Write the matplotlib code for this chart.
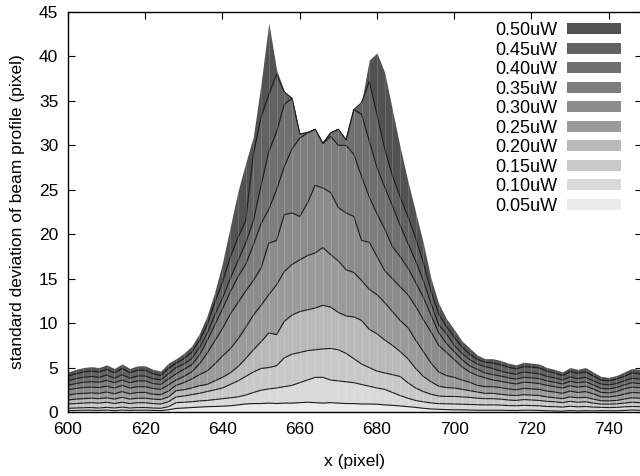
import numpy as np
import matplotlib.pyplot as plt
from matplotlib.patches import Patch

plt.rcParams['font.family'] = ['Liberation Sans', 'DejaVu Sans']

# sample positions along the row (pixel)
x_pixel = np.arange(600, 749, 2)

# standard deviation of the beam profile for each laser power
sd_050uw = [4.5, 4.8, 5.0, 5.1, 5.0, 5.3, 4.9, 5.4, 4.9, 5.2, 5.2, 4.8, 4.6, 5.5, 6.0,
            6.6, 7.4, 8.8, 10.8, 13.5, 16.8, 20.8, 24.8, 28.0, 31.0, 37.0, 43.8, 38.5, 36.1, 35.3,
            31.3, 31.4, 31.8, 30.2, 31.4, 31.8, 30.6, 34.0, 34.8, 39.6, 40.4, 38.2, 34.0, 29.8, 26.0,
            22.5, 19.0, 15.0, 12.2, 10.5,
            9.3, 8.0, 7.2, 6.4, 6.0, 6.0, 5.8, 5.5, 5.3, 5.6, 5.5, 5.4, 5.0, 4.8, 4.5,
            5.0, 4.8, 5.0, 4.5, 4.0, 3.9, 4.1, 4.5, 4.9, 4.8]
sd_045uw = [4.05, 4.3, 4.5, 4.6, 4.5, 4.8, 4.4, 4.9, 4.4, 4.7, 4.7, 4.3, 4.1, 4.9, 5.5,
            6.0, 6.7, 8.0, 9.8, 12.3, 14.6, 17.4, 19.6, 21.5, 29.0, 33.2, 35.7, 38.0, 36.0, 35.3,
            31.3, 31.4, 31.8, 30.2, 31.4, 31.8, 30.6, 34.0, 34.8, 37.2, 33.5, 29.6, 26.6, 24.2, 22.0,
            19.6, 16.8, 13.6, 11.0, 9.6,
            8.4, 7.3, 6.5, 5.9, 5.6, 5.5, 5.3, 5.05, 4.85, 5.1, 5.05, 4.95, 4.6, 4.4, 4.1,
            4.55, 4.35, 4.5, 4.05, 3.6, 3.5, 3.7, 4.0, 4.4, 4.3]
sd_040uw = [3.5, 3.75, 3.9, 4.0, 3.9, 4.15, 3.8, 4.2, 3.8, 4.05, 4.05, 3.75, 3.6, 4.3, 5.0,
            5.4, 6.0, 7.2, 8.8, 10.9, 12.8, 15.0, 17.0, 19.0, 21.5, 25.5, 29.3, 31.5, 34.6, 35.3,
            31.3, 31.4, 31.8, 30.2, 31.4, 31.8, 30.6, 34.0, 33.5, 30.5, 27.5, 25.3, 23.2, 21.0, 19.0,
            17.0, 14.8, 12.2, 9.8, 8.8,
            7.5, 6.6, 5.9, 5.4, 5.1, 4.9, 4.6, 4.4, 4.25, 4.5, 4.4, 4.3, 4.0, 3.85, 3.6,
            3.95, 3.75, 3.9, 3.5, 3.15, 3.05, 3.2, 3.5, 3.8, 3.7]
sd_035uw = [3.0, 3.2, 3.35, 3.4, 3.35, 3.55, 3.3, 3.6, 3.3, 3.5, 3.5, 3.2, 3.1, 3.7, 4.3,
            4.8, 5.3, 6.4, 8.0, 9.8, 11.6, 13.5, 15.2, 16.6, 18.8, 21.2, 22.8, 25.0, 27.6, 29.6,
            30.8, 31.4, 31.8, 30.2, 31.0, 30.0, 30.0, 29.0, 26.5, 24.2, 22.3, 20.6, 18.6, 17.5, 16.2,
            14.6, 12.9, 10.9, 8.9, 7.7,
            6.8, 5.9, 5.2, 4.8, 4.4, 4.2, 4.05, 3.85, 3.7, 3.9, 3.85, 3.75, 3.5, 3.35, 3.15,
            3.45, 3.3, 3.4, 3.05, 2.66, 2.6, 2.75, 3.05, 3.3, 3.2]
sd_030uw = [2.5, 2.65, 2.75, 2.8, 2.75, 2.9, 2.7, 3.0, 2.7, 2.85, 2.85, 2.65, 2.55, 3.05, 3.6,
            4.0, 4.5, 5.4, 6.6, 8.0, 9.4, 11.0, 12.3, 13.6, 14.8, 16.2, 19.0, 19.3, 22.2, 22.4,
            22.0, 23.5, 25.5, 25.2, 24.7, 23.0, 22.4, 22.0, 19.3, 19.1, 17.5, 15.9, 15.0, 14.1, 13.2,
            11.9, 10.4, 9.0, 7.5, 6.7,
            5.9, 5.1, 4.5, 4.1, 3.85, 3.6, 3.45, 3.3, 3.15, 3.35, 3.3, 3.2, 3.0, 2.85, 2.7,
            2.95, 2.8, 2.9, 2.6, 2.2, 2.15, 2.3, 2.6, 2.8, 2.75]
sd_025uw = [1.9, 2.05, 2.1, 2.15, 2.1, 2.25, 2.05, 2.3, 2.05, 2.2, 2.2, 2.0, 1.95, 2.35, 3.0,
            3.3, 3.7, 4.2, 4.6, 5.4, 6.3, 7.1, 8.2, 9.5, 10.9, 12.0, 13.2, 14.3, 15.8, 16.6,
            17.1, 17.6, 17.9, 18.5, 17.7, 17.0, 16.0, 15.7, 14.8, 13.8, 13.2, 12.3, 11.3, 10.3, 9.5,
            8.1, 6.8, 5.5, 4.5, 4.1,
            3.9, 3.6, 3.35, 3.0, 2.85, 2.85, 2.75, 2.6, 2.5, 2.65, 2.6, 2.55, 2.35, 2.25, 2.1,
            2.35, 2.2, 2.3, 2.05, 1.72, 1.7, 1.8, 2.0, 2.2, 2.15]
sd_020uw = [1.35, 1.45, 1.5, 1.55, 1.5, 1.6, 1.45, 1.65, 1.45, 1.55, 1.55, 1.45, 1.4, 1.7, 2.4,
            2.5, 2.7, 2.95, 3.1, 3.5, 3.9, 4.4, 5.1, 6.0, 7.0, 7.9, 8.9, 8.7, 10.2, 10.9,
            11.3, 11.5, 11.7, 12.0, 11.8, 11.2, 10.8, 10.7, 10.3, 9.3, 8.8, 8.1, 7.5, 6.8, 6.0,
            4.9, 4.0, 3.4, 2.9, 2.75,
            2.7, 2.55, 2.4, 2.25, 2.1, 2.1, 2.0, 1.9, 1.85, 1.95, 1.9, 1.85, 1.7, 1.6, 1.5,
            1.7, 1.6, 1.65, 1.45, 1.27, 1.25, 1.3, 1.45, 1.6, 1.55]
sd_015uw = [0.9, 0.95, 1.0, 1.05, 1.0, 1.1, 0.95, 1.1, 0.95, 1.05, 1.05, 0.95, 0.9, 1.15, 1.7,
            1.8, 1.95, 2.1, 2.3, 2.5, 2.7, 3.1, 3.5, 4.0, 4.5, 4.9, 5.0, 5.2, 6.1, 6.5,
            6.7, 6.9, 7.0, 7.1, 7.15, 7.0, 6.6, 6.0, 5.4, 5.0, 4.6, 4.4, 4.2, 4.0, 3.3,
            2.7, 2.3, 2.0, 1.8, 1.75,
            1.75, 1.7, 1.65, 1.55, 1.5, 1.5, 1.45, 1.35, 1.3, 1.4, 1.35, 1.3, 1.2, 1.15, 1.05,
            1.2, 1.1, 1.15, 1.0, 0.9, 0.88, 0.92, 1.0, 1.1, 1.05]
sd_010uw = [0.42, 0.45, 0.48, 0.5, 0.45, 0.52, 0.45, 0.55, 0.45, 0.5, 0.5, 0.45, 0.42, 0.6, 1.05,
            1.1, 1.15, 1.25, 1.3, 1.4, 1.5, 1.6, 1.7, 1.9, 2.2, 2.45, 2.6, 2.7, 2.85, 3.0,
            3.3, 3.6, 3.9, 3.9, 3.6, 3.5, 3.4, 3.3, 3.1, 2.9, 2.7, 2.55, 2.2, 1.85, 1.55,
            1.3, 1.15, 1.02, 0.94, 0.92,
            0.9, 0.88, 0.85, 0.82, 0.8, 0.8, 0.78, 0.72, 0.7, 0.75, 0.72, 0.7, 0.62, 0.6, 0.55,
            0.65, 0.58, 0.62, 0.55, 0.52, 0.5, 0.52, 0.58, 0.62, 0.6]
sd_005uw = [0.15, 0.17, 0.2, 0.2, 0.18, 0.22, 0.15, 0.22, 0.18, 0.2, 0.2, 0.18, 0.15, 0.25, 0.4,
            0.45, 0.5, 0.55, 0.6, 0.62, 0.65, 0.7, 0.8, 0.9, 0.95, 0.95, 1.0, 0.95, 1.0, 1.0,
            1.05, 1.1, 1.05, 1.0, 1.05, 1.0, 0.95, 0.95, 0.9, 0.9, 0.88, 0.8, 0.75, 0.68, 0.6,
            0.52, 0.42, 0.34, 0.3, 0.27,
            0.25, 0.24, 0.22, 0.2, 0.2, 0.2, 0.2, 0.18, 0.17, 0.2, 0.2, 0.18, 0.14, 0.12, 0.1,
            0.16, 0.12, 0.15, 0.12, 0.15, 0.14, 0.14, 0.17, 0.22, 0.2]

power_labels = ['0.50uW', '0.45uW', '0.40uW', '0.35uW', '0.30uW',
                '0.25uW', '0.20uW', '0.15uW', '0.10uW', '0.05uW']
series = [sd_050uw, sd_045uw, sd_040uw, sd_035uw, sd_030uw,
          sd_025uw, sd_020uw, sd_015uw, sd_010uw, sd_005uw]
fill_colors = ['#525252', '#626262', '#707070', '#7e7e7e', '#8c8c8c',
               '#9b9b9b', '#b9b9b9', '#c9c9c9', '#d9d9d9', '#ebebeb']

fig = plt.figure(figsize=(6.4, 4.76), dpi=100)
ax = fig.add_axes([68 / 640, 64 / 476, 573.5 / 640, 400 / 476])

# highest power at the back, each lower power filled over it
for i, (vals, col) in enumerate(zip(series, fill_colors)):
    ax.fill_between(x_pixel, 0, vals, color=col, lw=0, zorder=3 + 2 * i)
    if i > 0:
        ax.plot(x_pixel, vals, color='#1c1c1c', lw=0.8, zorder=4 + 2 * i)

# faint seams between the filled columns
ax.vlines(x_pixel, 0, sd_050uw, colors='white', alpha=0.18, lw=0.6, zorder=21.5)

ax.set_xlim(600, 748.5)
ax.set_ylim(0, 45)
ax.set_xticks(np.arange(600, 741, 20))
ax.set_yticks(np.arange(0, 46, 5))
ax.tick_params(direction='in', length=5, width=0.8, top=True, right=True,
               labelsize=12.5, pad=7, colors='black')
for sp in ax.spines.values():
    sp.set_zorder(50)
    sp.set_linewidth(1.0)

ax.set_xlabel('x (pixel)', fontsize=12.5)
ax.set_ylabel('standard deviation of beam profile (pixel)', fontsize=12.5)
ax.xaxis.set_label_coords(0.5, -0.105)
ax.yaxis.set_label_coords(-0.075, 0.5)

handles = [Patch(facecolor=c, edgecolor='none', label=l)
           for c, l in zip(fill_colors, power_labels)]
leg = ax.legend(handles=handles, loc='upper right', markerfirst=False,
                bbox_to_anchor=(621 / 640, 454 / 476), bbox_transform=fig.transFigure,
                frameon=False, fontsize=13, handlelength=3.0, handleheight=0.55,
                handletextpad=0.55, labelspacing=0.14, borderpad=0, borderaxespad=0)
leg.set_zorder(60)

fig.savefig('out.png', dpi=100)
